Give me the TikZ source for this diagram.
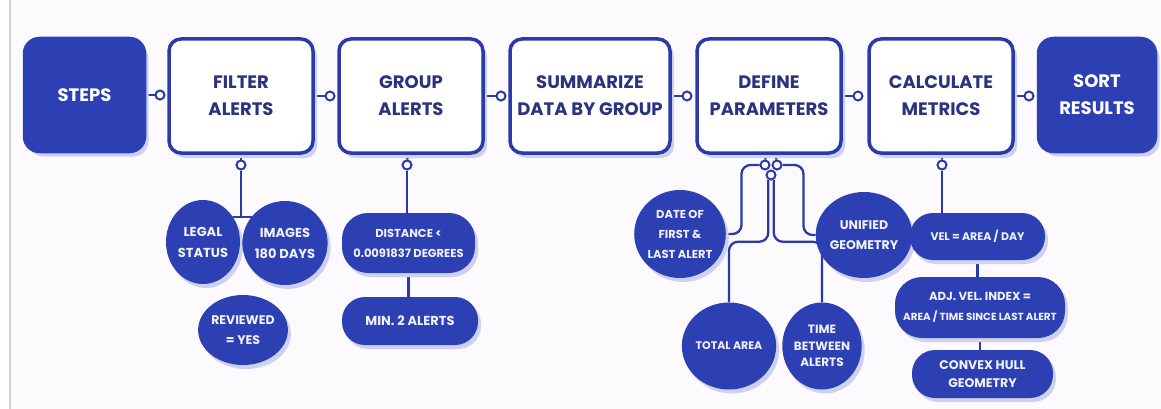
\documentclass[tikz,border=0pt]{standalone}
\usepackage{fontspec}
\setmainfont{Poppins}
\usepackage{tikz}
\usetikzlibrary{shapes}
\usetikzlibrary{shapes.geometric}
\usetikzlibrary{positioning}
\usetikzlibrary{shadows}
\usetikzlibrary{backgrounds}
\definecolor{bleu}{HTML}{2C40B4}
\definecolor{trait}{HTML}{2A3AAA}
\definecolor{marine}{HTML}{29337E}
\definecolor{ombre}{HTML}{CDD1EE}
\definecolor{fond}{HTML}{FDFAFD}
\definecolor{pale}{HTML}{F0F1FB}
\definecolor{bord}{HTML}{D2D2D6}
\tikzstyle{etape}=[
        rectangle,
        draw=trait,
        line width=3.5pt,
        rounded corners=12pt,
        fill=white,
        text=marine,
        align=center,
        inner sep=0pt,
        minimum width=144pt,
        minimum height=114pt,
        font=\bfseries\fontsize{18}{27}\selectfont,
        drop shadow={shadow xshift=4pt,shadow yshift=-5pt,fill=ombre,opacity=1}
]
\tikzstyle{pleine}=[etape,draw=bleu,fill=bleu,text=white,rounded corners=15pt]
\tikzstyle{bulle}=[ellipse,fill=bleu,text=pale,align=center,inner sep=0pt,
        font=\bfseries\fontsize{12.5}{20}\selectfont,
        drop shadow={shadow xshift=3pt,shadow yshift=-4pt,fill=ombre,opacity=1}]
\tikzstyle{pilule}=[rectangle,fill=bleu,text=pale,align=center,inner sep=0pt,
        rounded corners=23pt,
        font=\bfseries\fontsize{12.5}{20}\selectfont,
        drop shadow={shadow xshift=3pt,shadow yshift=-4pt,fill=ombre,opacity=1}]
\tikzstyle{anneau}=[circle,draw=trait,fill=white,line width=2pt,minimum size=9pt,inner sep=0pt]
\tikzstyle{suite}=[draw=trait,line width=2.3pt,rounded corners=9pt]
\begin{document}
\begin{tikzpicture}[x=1pt,y=-1pt]
\useasboundingbox (0,0) rectangle (1161,409);
\begin{scope}[on background layer]
\fill[fond] (10,0) rectangle (1161,409);
\draw[bord,line width=1.2pt] (10,0) -- (10,409);
\end{scope}
%Steps
\node[pleine,minimum width=120pt,minimum height=113pt] (steps) at (84.5,95) {STEPS};
\node[etape] (filter) at (241,96) {FILTER\\ALERTS};
\node[etape] (group) at (411,96) {GROUP\\ALERTS};
\node[etape,minimum width=160pt] (summ) at (590,96) {SUMMARIZE\\DATA BY GROUP};
\node[etape] (param) at (769,96) {DEFINE\\PARAMETERS};
\node[etape] (calc) at (941,96) {CALCULATE\\METRICS};
\node[pleine,minimum width=117pt,minimum height=113pt] (sortres) at (1097,95) {SORT\\RESULTS};
%Rings
\node[anneau] (c1) at (160,95) {};
\node[anneau] (c2) at (330,96) {};
\node[anneau] (c3) at (501,96) {};
\node[anneau] (c4) at (687,96) {};
\node[anneau] (c5) at (858,96) {};
\node[anneau] (c6) at (1029,96) {};
\node[anneau] (fo) at (241,165) {};
\node[anneau] (go) at (407,165) {};
\node[anneau] (da) at (765,165) {};
\node[anneau] (db) at (777,165) {};
\node[anneau] (dc) at (771,175) {};
\node[anneau] (ko) at (942,165) {};
\coordinate (fj) at (241,217);
%Details
\node[bulle,minimum width=74pt,minimum height=84pt,font=\bfseries\fontsize{13}{21}\selectfont] (legal) at (203,242) {LEGAL\\STATUS};
\node[bulle,minimum width=75pt,minimum height=84pt,font=\bfseries\fontsize{13}{21}\selectfont] (images) at (285,243) {IMAGES\\180 DAYS};
\node[bulle,minimum width=77pt,minimum height=70pt] (reviewed) at (243,330) {REVIEWED\\= YES};
\node[pilule,minimum width=133pt,minimum height=60pt,rounded corners=26pt,font=\bfseries\fontsize{11.5}{20}\selectfont] (dist) at (408.5,243) {DISTANCE <\\0.0091837 DEGREES};
\node[pilule,minimum width=136pt,minimum height=48pt,font=\bfseries\fontsize{13}{20}\selectfont] (mintwo) at (410,321) {MIN. 2 ALERTS};
\node[bulle,minimum width=80pt,minimum height=88pt,font=\bfseries\fontsize{11.5}{20}\selectfont] (datefl) at (680,234) {DATE OF\\FIRST \&\\LAST ALERT};
\node[bulle,minimum width=78pt,minimum height=86pt] (unified) at (864,235) {UNIFIED\\GEOMETRY};
\node[bulle,minimum width=75pt,minimum height=87pt,font=\bfseries\fontsize{11}{20}\selectfont] (area) at (729,346) {TOTAL AREA};
\node[bulle,minimum width=79pt,minimum height=87pt,font=\bfseries\fontsize{12}{16.5}\selectfont] (between) at (822,346) {TIME\\BETWEEN\\ALERTS};
\node[pilule,minimum width=135pt,minimum height=47pt,font=\bfseries\fontsize{11}{20}\selectfont] (vel) at (977.5,236.5) {VEL = AREA / DAY};
\node[pilule,minimum width=170pt,minimum height=61pt,rounded corners=27pt,font=\bfseries\fontsize{11.7}{20}\selectfont] (adj) at (980,307.5) {ADJ. VEL. INDEX =\\{\fontsize{10.3}{20}\selectfont AREA / TIME SINCE LAST ALERT}};
\node[pilule,minimum width=141pt,minimum height=48pt,font=\bfseries\fontsize{12.5}{18.5}\selectfont] (hull) at (982.5,374) {CONVEX HULL\\GEOMETRY};
%Drawing Edges
\begin{scope}[on background layer]
\draw[suite] (steps) -- (c1);
\draw[suite] (filter) -- (c2);
\draw[suite] (group) -- (c3);
\draw[suite] (summ) -- (c4);
\draw[suite] (param) -- (c5);
\draw[suite] (calc) -- (c6);
\draw[suite] (filter) -- (fo);
\draw[suite] (fo) -- (fj);
\draw[suite] (fj -| legal) -- (fj -| images);
\draw[suite] (group) -- (go);
\draw[suite] (go) -- (go |- dist.north);
\draw[suite] (dist) -- (dist |- mintwo.north);
\draw[suite] (param) -- (da);
\draw[suite] (param) -- (db);
\draw[suite] (da.west) -- ++(-18,0) |- (datefl);
\draw[suite] (db.east) -- ++(21,0) |- (unified);
\draw[suite] (dc.240) -- ++(0,62) -| (area);
\draw[suite] (dc.300) -- ++(0,62) -| (between);
\draw[suite] (calc) -- (ko);
\draw[suite] (ko) -- (ko |- vel.north);
\draw[suite] (vel) -- (vel |- adj.north);
\draw[suite] (adj) -- (adj |- hull.north);
\end{scope}
\end{tikzpicture}
\end{document}
